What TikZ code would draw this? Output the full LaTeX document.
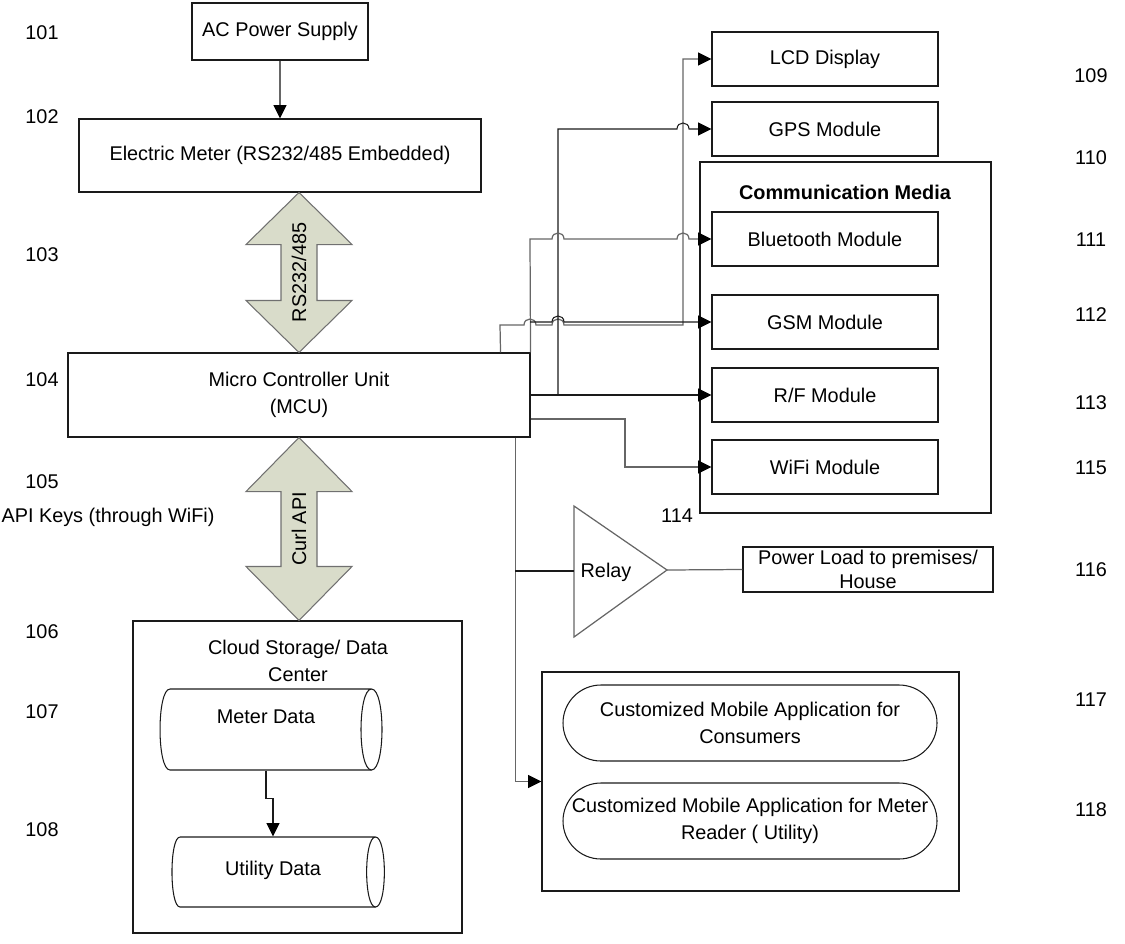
\documentclass[tikz,border=0pt]{standalone}
\usepackage{fontspec}
\setmainfont{Liberation Sans}
\usetikzlibrary{arrows.meta,calc}
\definecolor{wiregray}{HTML}{666666}
\definecolor{boxline}{HTML}{1A1A1A}
\definecolor{fatfill}{HTML}{D9DCCA}
\definecolor{fatline}{HTML}{707070}
\begin{document}
\begin{tikzpicture}[x=0.02cm,y=-0.02cm,line width=0.6pt,
  every node/.style={font=\fontsize{11.3}{15}\selectfont,inner sep=0pt},
  box/.style 2 args={draw=boxline,minimum width=#1*0.02cm,minimum height=#2*0.02cm,align=center},
  ghost/.style 2 args={minimum width=#1*0.02cm,minimum height=#2*0.02cm},
  pill/.style={box={374}{76},rounded corners=0.76cm},
  modbox/.style={box={226}{54}},
  wire/.style={draw=wiregray,line width=0.7pt},
  blk/.style={draw=boxline,line width=0.6pt},
  arr/.style={-{Triangle[length=7.6pt,width=7.4pt,color=black]}},
  fat/.style={draw=fatline,fill=fatfill,line width=0.6pt},
  num/.style={font=\fontsize{11.3}{15}\selectfont},
  hop/.style={to path={-- ([xshift=-0.12cm]\tikztotarget) .. controls +(0,0.16cm) and +(0,0.16cm) .. ([xshift=0.12cm]\tikztotarget)}}]
\useasboundingbox (0,0) rectangle (1125,943);

% left column
\node[box={176}{57}] (ac) at (280,31.5) {AC Power Supply};
\node[box={402}{73}] (meter) at (280,155.5) {Electric Meter (RS232/485 Embedded)};
\node[box={462}{84}] (mcu) at (299,395) {Micro Controller Unit\\(MCU)};
\node[box={329}{312}] (cloud) at (297.5,777) {};
\node[align=center] (cloudtitle) at (298,661) {Cloud Storage/ Data\\Center};

% storage cylinders
\node[ghost={222}{81}] (md) at (271,729.5) {};
\node (mdtext) at (266,717) {Meter Data};
\draw[blk] (170,689) -- (371.5,689) .. controls (385.5,689) and (385.5,770) .. (371.5,770)
  .. controls (357.5,770) and (357.5,689) .. (371.5,689);
\draw[blk] (371.5,770) -- (170,770) .. controls (156.7,770) and (156.7,689) .. (170,689);
\node[ghost={212}{70}] (ud) at (278,872) {};
\node (udtext) at (273,870) {Utility Data};
\draw[blk] (180,837) -- (375.5,837) .. controls (387.3,837) and (387.3,907) .. (375.5,907)
  .. controls (363.7,907) and (363.7,837) .. (375.5,837);
\draw[blk] (375.5,907) -- (180,907) .. controls (169.3,907) and (169.3,837) .. (180,837);

% right column
\node[modbox] (lcd) at (825,59) {LCD Display};
\node[modbox] (gps) at (825,129) {GPS Module};
\node[box={291}{351}] (comm) at (845.5,337.5) {};
\node[font=\fontsize{11.3}{15}\selectfont\bfseries] (commtitle) at (845,192) {Communication Media};
\node[modbox] (bt) at (825,239) {Bluetooth Module};
\node[modbox] (gsm) at (825,322) {GSM Module};
\node[modbox] (rf) at (825,395) {R/F Module};
\node[modbox] (wifi) at (825,467) {WiFi Module};

% relay and load
\coordinate (relayIn) at (574,571);
\coordinate (relayOut) at (667,570);
\draw[draw=wiregray,line width=0.7pt] (574,506) -- (relayOut) -- (574,637) -- cycle;
\node (relay) at (606,572) {Relay};
\node[box={250}{45},font=\fontsize{11.3}{14}\selectfont] (load) at (868,569.5) {Power Load to premises/\\House};

% mobile applications
\node[box={417}{219}] (apps) at (750.5,781.5) {};
\node[pill] (app1) at (750,723) {Customized Mobile Application for\\Consumers};
\node[pill] (app2) at (750,821) {Customized Mobile Application for Meter\\Reader ( Utility)};

% bus reference points
\coordinate (busG) at (558,395);
\coordinate (btTap) at (530,322);
\coordinate (tap) at (515,571);

% connectors
\draw[wire,arr] (ac) -- (meter);

\coordinate (rsTop) at (meter.south -| mcu.north);
\coordinate (rsBot) at (mcu.north);
\draw[fat] (rsTop) -- ++(53,52) -- ++(-35,0) -- ($(rsBot)+(18,-52)$) -- ++(35,0) -- (rsBot)
  -- ++(-53,-52) -- ++(35,0) -- ($(rsTop)+(-18,52)$) -- ++(-35,0) -- cycle;
\node[rotate=90] (rslabel) at ($(rsTop)!0.5!(rsBot)$) {RS232/485};

\coordinate (cuTop) at (mcu.south);
\coordinate (cuBot) at (cloud.north -| mcu.south);
\draw[fat] (cuTop) -- ++(53,54) -- ++(-35,0) -- ($(cuBot)+(18,-54)$) -- ++(35,0) -- (cuBot)
  -- ++(-53,-54) -- ++(35,0) -- ($(cuTop)+(-18,54)$) -- ++(-35,0) -- cycle;
\node[rotate=90] (culabel) at ($(cuTop)!0.5!(cuBot)$) {Curl API};

\draw[wire,arr] ([xshift=-0.6cm]mcu.north east) -- (500,325) to[hop] (530,325) to[hop] (558,325) -- (683,325) |- (lcd.west);
\draw[blk,arr] (busG) -- (busG |- gps.west) to[hop] (683,129) -- (gps.west);
\draw[wire,arr] (mcu.north east) -- (530,239) to[hop] (558,239) to[hop] (683,239) -- (bt.west);
\draw[blk,arr] (btTap) to[hop] (558,322) -- (gsm.west);
\draw[blk,arr] (mcu.east) -- (rf.west);
\draw[wire,arr] ([yshift=-0.48cm]mcu.east) -| (625,467) -- (wifi.west);
\draw[wire,arr] ([xshift=-0.3cm]mcu.south east) |- (apps.west);
\draw[blk] (tap) -- (relayIn);
\draw[wire] (relayOut) -- (load.west);
\draw[blk,arr] ([xshift=-0.1cm]md.south) -- ++(0,28) -| ([xshift=-0.1cm]ud.north);

% reference numerals
\node[num] (n101) at (42,33) {101};
\node[num] (n102) at (42,117) {102};
\node[num] (n103) at (42,255) {103};
\node[num] (n104) at (42,380) {104};
\node[num] (n105) at (42,482) {105};
\node[num] (apikeys) at (108,517) {API Keys (through WiFi)};
\node[num] (n106) at (42,632) {106};
\node[num] (n107) at (42,712) {107};
\node[num] (n108) at (42,830) {108};
\node[num] (n109) at (1091,76) {109};
\node[num] (n110) at (1091,158) {110};
\node[num] (n111) at (1091,240) {111};
\node[num] (n112) at (1091,315) {112};
\node[num] (n113) at (1091,403) {113};
\node[num] (n114) at (677,516) {114};
\node[num] (n115) at (1091,468) {115};
\node[num] (n116) at (1091,570) {116};
\node[num] (n117) at (1091,700) {117};
\node[num] (n118) at (1091,810) {118};
\end{tikzpicture}
\end{document}
